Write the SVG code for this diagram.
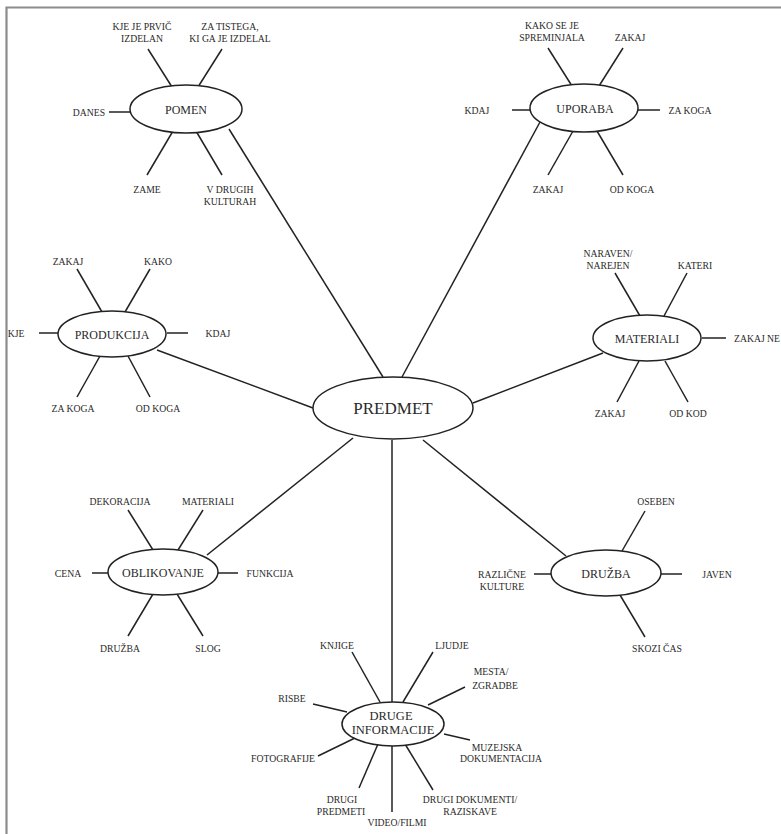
<svg xmlns="http://www.w3.org/2000/svg" width="781" height="834" viewBox="0 0 781 834">
<style>
.frame{stroke:#8c8c8c;stroke-width:2.2;fill:none}
.ln{stroke:#222;stroke-width:1.5;fill:none;stroke-linecap:butt}
.el{stroke:#222;stroke-width:1.5;fill:#fff}
text{font-family:"Liberation Serif","Times New Roman",serif;fill:#2a2a2a;text-anchor:middle}
.lb{font-size:9.7px}
.nd{font-size:12px}
.big{font-size:17px}
</style>
<rect width="781" height="834" fill="#fff"/>
<path class="frame" d="M6.5 834 V7.5 H781"/>
<g id="connectors">
<line class="ln" x1="229" y1="129" x2="383" y2="377"/>
<line class="ln" x1="540" y1="122" x2="402" y2="377"/>
<line class="ln" x1="157" y1="350" x2="313" y2="408"/>
<line class="ln" x1="603" y1="353" x2="473" y2="403"/>
<line class="ln" x1="207" y1="555" x2="353" y2="438"/>
<line class="ln" x1="423" y1="440" x2="566" y2="556"/>
<line class="ln" x1="392" y1="440" x2="392" y2="702"/>
</g>
<g id="predmet">
<ellipse class="el" cx="393" cy="408" rx="80" ry="31"/>
<text class="big" x="393" y="414">PREDMET</text>
</g>
<g id="pomen">
<line class="ln" x1="148" y1="49" x2="172" y2="87"/>
<line class="ln" x1="222" y1="49" x2="198" y2="87"/>
<line class="ln" x1="109" y1="112" x2="130" y2="112"/>
<line class="ln" x1="173" y1="131" x2="147" y2="175"/>
<line class="ln" x1="196" y1="131" x2="222" y2="175"/>
<ellipse class="el" cx="186" cy="109" rx="56" ry="24"/>
<text class="nd" x="186" y="114">POMEN</text>
<text class="lb" x="142" y="29.5">KJE JE PRVIČ</text>
<text class="lb" x="142" y="42">IZDELAN</text>
<text class="lb" x="230" y="29.5">ZA TISTEGA,</text>
<text class="lb" x="230" y="42">KI GA JE IZDELAL</text>
<text class="lb" x="89" y="115.5">DANES</text>
<text class="lb" x="147" y="193">ZAME</text>
<text class="lb" x="230" y="193">V DRUGIH</text>
<text class="lb" x="230" y="205">KULTURAH</text>
</g>
<g id="uporaba">
<line class="ln" x1="548" y1="48" x2="572" y2="86"/>
<line class="ln" x1="623" y1="48" x2="599" y2="86"/>
<line class="ln" x1="512" y1="110" x2="530" y2="110"/>
<line class="ln" x1="638" y1="110" x2="660" y2="110"/>
<line class="ln" x1="573" y1="131" x2="548" y2="175"/>
<line class="ln" x1="597" y1="131" x2="623" y2="175"/>
<ellipse class="el" cx="584" cy="108" rx="54" ry="24"/>
<text class="nd" x="585" y="113">UPORABA</text>
<text class="lb" x="552" y="28.5">KAKO SE JE</text>
<text class="lb" x="552" y="41">SPREMINJALA</text>
<text class="lb" x="630" y="41">ZAKAJ</text>
<text class="lb" x="477" y="113.5">KDAJ</text>
<text class="lb" x="690" y="113.5">ZA KOGA</text>
<text class="lb" x="548" y="193">ZAKAJ</text>
<text class="lb" x="632" y="193">OD KOGA</text>
</g>
<g id="produkcija">
<line class="ln" x1="77" y1="269" x2="102" y2="312"/>
<line class="ln" x1="150" y1="269" x2="125" y2="312"/>
<line class="ln" x1="39" y1="333" x2="58" y2="333"/>
<line class="ln" x1="167" y1="333" x2="188" y2="333"/>
<line class="ln" x1="100" y1="356" x2="77" y2="397"/>
<line class="ln" x1="128" y1="356" x2="150" y2="397"/>
<ellipse class="el" cx="112" cy="334" rx="54" ry="23"/>
<text class="nd" x="112" y="338.5">PRODUKCIJA</text>
<text class="lb" x="68" y="264.5">ZAKAJ</text>
<text class="lb" x="158" y="264.5">KAKO</text>
<text class="lb" x="16" y="337">KJE</text>
<text class="lb" x="218" y="337">KDAJ</text>
<text class="lb" x="73" y="412">ZA KOGA</text>
<text class="lb" x="158" y="412">OD KOGA</text>
</g>
<g id="materiali">
<line class="ln" x1="615" y1="273" x2="640" y2="316"/>
<line class="ln" x1="687" y1="273" x2="664" y2="316"/>
<line class="ln" x1="702" y1="338" x2="726" y2="338"/>
<line class="ln" x1="639" y1="361" x2="617" y2="402"/>
<line class="ln" x1="665" y1="361" x2="688" y2="402"/>
<ellipse class="el" cx="647" cy="338" rx="54" ry="23"/>
<text class="nd" x="647" y="342.5">MATERIALI</text>
<text class="lb" x="608" y="256.5">NARAVEN/</text>
<text class="lb" x="608" y="268.5">NAREJEN</text>
<text class="lb" x="695" y="268.5">KATERI</text>
<text class="lb" x="757" y="342">ZAKAJ NE</text>
<text class="lb" x="610" y="416.5">ZAKAJ</text>
<text class="lb" x="688" y="416.5">OD KOD</text>
</g>
<g id="oblikovanje">
<line class="ln" x1="128" y1="510" x2="153" y2="550"/>
<line class="ln" x1="203" y1="510" x2="178" y2="550"/>
<line class="ln" x1="92" y1="573" x2="108" y2="573"/>
<line class="ln" x1="218" y1="573" x2="238" y2="573"/>
<line class="ln" x1="153" y1="594" x2="128" y2="636"/>
<line class="ln" x1="177" y1="594" x2="203" y2="636"/>
<ellipse class="el" cx="163" cy="572" rx="55" ry="23"/>
<text class="nd" x="163" y="577">OBLIKOVANJE</text>
<text class="lb" x="120" y="505">DEKORACIJA</text>
<text class="lb" x="208" y="505">MATERIALI</text>
<text class="lb" x="68" y="577">CENA</text>
<text class="lb" x="270" y="577">FUNKCIJA</text>
<text class="lb" x="120" y="652">DRUŽBA</text>
<text class="lb" x="208" y="652">SLOG</text>
</g>
<g id="druzba">
<line class="ln" x1="645" y1="511" x2="622" y2="551"/>
<line class="ln" x1="534" y1="574" x2="552" y2="574"/>
<line class="ln" x1="661" y1="574" x2="682" y2="574"/>
<line class="ln" x1="620" y1="595" x2="645" y2="637"/>
<ellipse class="el" cx="606" cy="573" rx="55" ry="23"/>
<text class="nd" x="606" y="578">DRUŽBA</text>
<text class="lb" x="656" y="505">OSEBEN</text>
<text class="lb" x="502" y="577.5">RAZLIČNE</text>
<text class="lb" x="502" y="589.5">KULTURE</text>
<text class="lb" x="717" y="577.5">JAVEN</text>
<text class="lb" x="657" y="652">SKOZI ČAS</text>
</g>
<g id="druge-informacije">
<line class="ln" x1="352" y1="652" x2="380" y2="702"/>
<line class="ln" x1="433" y1="652" x2="403" y2="702"/>
<line class="ln" x1="465" y1="687" x2="428" y2="705"/>
<line class="ln" x1="313" y1="704" x2="347" y2="712"/>
<line class="ln" x1="318" y1="756" x2="355" y2="738"/>
<line class="ln" x1="444" y1="734" x2="470" y2="740"/>
<line class="ln" x1="378" y1="744" x2="359" y2="788"/>
<line class="ln" x1="392" y1="746" x2="392" y2="812"/>
<line class="ln" x1="405" y1="744" x2="433" y2="790"/>
<ellipse class="el" cx="393" cy="724" rx="51" ry="22"/>
<text class="nd" x="391" y="719.5" style="font-size:12.5px">DRUGE</text>
<text class="nd" x="393" y="733.5" style="font-size:12.5px">INFORMACIJE</text>
<text class="lb" x="337" y="648.5">KNJIGE</text>
<text class="lb" x="452" y="648.5">LJUDJE</text>
<text class="lb" x="491" y="675">MESTA/</text>
<text class="lb" x="495" y="688.5">ZGRADBE</text>
<text class="lb" x="292" y="702">RISBE</text>
<text class="lb" x="497" y="750.5">MUZEJSKA</text>
<text class="lb" x="501" y="762">DOKUMENTACIJA</text>
<text class="lb" x="283" y="761.5">FOTOGRAFIJE</text>
<text class="lb" x="342" y="802.5">DRUGI</text>
<text class="lb" x="341" y="814.5">PREDMETI</text>
<text class="lb" x="397" y="825.5">VIDEO/FILMI</text>
<text class="lb" x="470" y="802.5">DRUGI DOKUMENTI/</text>
<text class="lb" x="470" y="814.5">RAZISKAVE</text>
</g>
</svg>
